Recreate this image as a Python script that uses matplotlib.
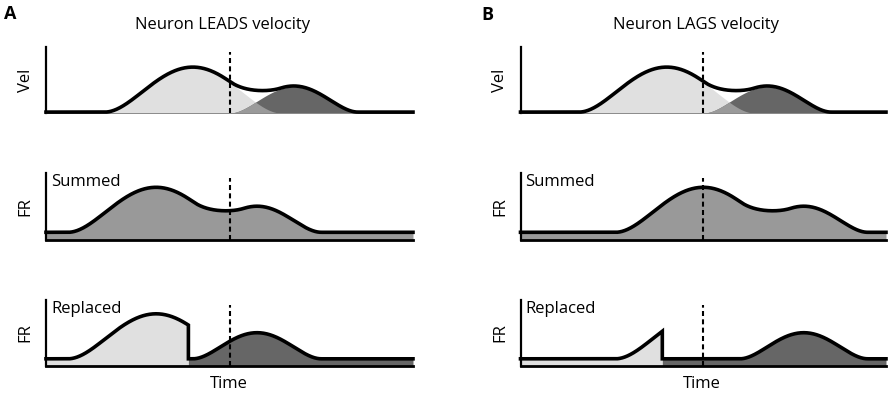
import numpy as np
import matplotlib.pyplot as plt

plt.rcParams['font.family'] = ['Open Sans', 'DejaVu Sans']

# time in arbitrary units, dashed line marks the reference time
t_range = [0.0, 10.0]
event_time = 5.0

# the two velocity components (early = light grey, late = dark grey)
bump_center = [4.0, 6.75]
bump_halfwidth = [2.4, 1.75]
bump_height = [1.0, 0.58]

panel_labels = ['A', 'B']
panel_titles = ['Neuron LEADS velocity', 'Neuron LAGS velocity']
fr_shift = [-1.0, 1.0]      # firing rate shift relative to velocity
fr_baseline = 0.16
switch_time = 3.88          # time where the "replaced" code switches component

row_ylabels = ['Vel', 'FR', 'FR']
row_tags = [None, 'Summed', 'Replaced']

LIGHT = '#e0e0e0'
MID = '#9a9a9a'
DARK = '#666666'
SUMC = '#999999'

W, H = 892, 395
col_x = [(46, 413), (520.5, 886)]
row_y = [(47, 113), (173, 239.5), (300, 366)]
px_per_unit = 45.0


def bump(t, i):
    d = (t - bump_center[i]) / bump_halfwidth[i]
    return bump_height[i] * np.clip(1 - d ** 2, 0, None) ** 2


fig = plt.figure(figsize=(W / 100, H / 100), dpi=100)

for c in range(2):
    for r in range(3):
        x0, x1 = col_x[c]
        y0, y1 = row_y[r]
        ax = fig.add_axes([x0 / W, (H - y1) / H, (x1 - x0) / W, (y1 - y0) / H])
        ax.set_xlim(*t_range)
        ax.set_ylim(0, (y1 - y0) / px_per_unit)
        ax.set_xticks([])
        ax.set_yticks([])
        for s in ['top', 'right']:
            ax.spines[s].set_visible(False)
        ax.spines['left'].set_linewidth(1.6)
        ax.patch.set_alpha(0)

        t = np.linspace(t_range[0], t_range[1], 800)
        if r == 0:
            a = bump(t, 0)
            b = bump(t, 1)
            ax.fill_between(t, 0, a, color=LIGHT, lw=0)
            ax.fill_between(t, 0, b, color=DARK, lw=0)
            ax.fill_between(t, 0, np.minimum(a, b), color=MID, lw=0)
            ax.spines['bottom'].set_color('#8a8a8a')
            ax.spines['bottom'].set_linewidth(0.7)
            tt, yy = t, a + b + 0.02
        elif r == 1:
            ts = t - fr_shift[c]
            yy = fr_baseline + bump(ts, 0) + bump(ts, 1)
            ax.fill_between(t, 0, yy, color=SUMC, lw=0)
            ax.spines['bottom'].set_linewidth(2.0)
            tt = t
        else:
            t1 = np.linspace(t_range[0], switch_time, 400)
            t2 = np.linspace(switch_time, t_range[1], 500)
            y1c = fr_baseline + bump(t1 - fr_shift[c], 0)
            y2c = fr_baseline + bump(t2 - fr_shift[c], 1)
            ax.fill_between(t1, 0, y1c, color=LIGHT, lw=0)
            ax.fill_between(t2, 0, y2c, color=DARK, lw=0)
            ax.spines['bottom'].set_linewidth(2.0)
            tt = np.concatenate([t1, t2])
            yy = np.concatenate([y1c, y2c])

        ax.axvline(event_time, ymin=0, ymax=0.93, color='k', lw=1.5,
                   dashes=(2.4, 1.6), zorder=3)
        ax.plot(tt, yy, color='k', lw=2.6, clip_on=False, zorder=4,
                solid_joinstyle='miter')

        ax.text(-0.034, 0.5, row_ylabels[r], rotation=90, ha='right',
                va='center', fontsize=12, transform=ax.transAxes)
        if row_tags[r]:
            ax.text(0.014, 0.99, row_tags[r], ha='left', va='top',
                    fontsize=12, transform=ax.transAxes)
        if r == 0:
            ax.text(0.48, 1.33, panel_titles[c], ha='center', va='center',
                    fontsize=12, transform=ax.transAxes)
        if r == 2:
            ax.text(0.497, -0.27, 'Time', ha='center', va='center',
                    fontsize=12, transform=ax.transAxes)

fig.text(10 / W, 1 - 14 / H, panel_labels[0], fontsize=13, fontweight='bold',
         ha='center', va='center')
fig.text(487 / W, 1 - 15 / H, panel_labels[1], fontsize=13, fontweight='bold',
         ha='center', va='center')

fig.savefig('out.png', dpi=100)
